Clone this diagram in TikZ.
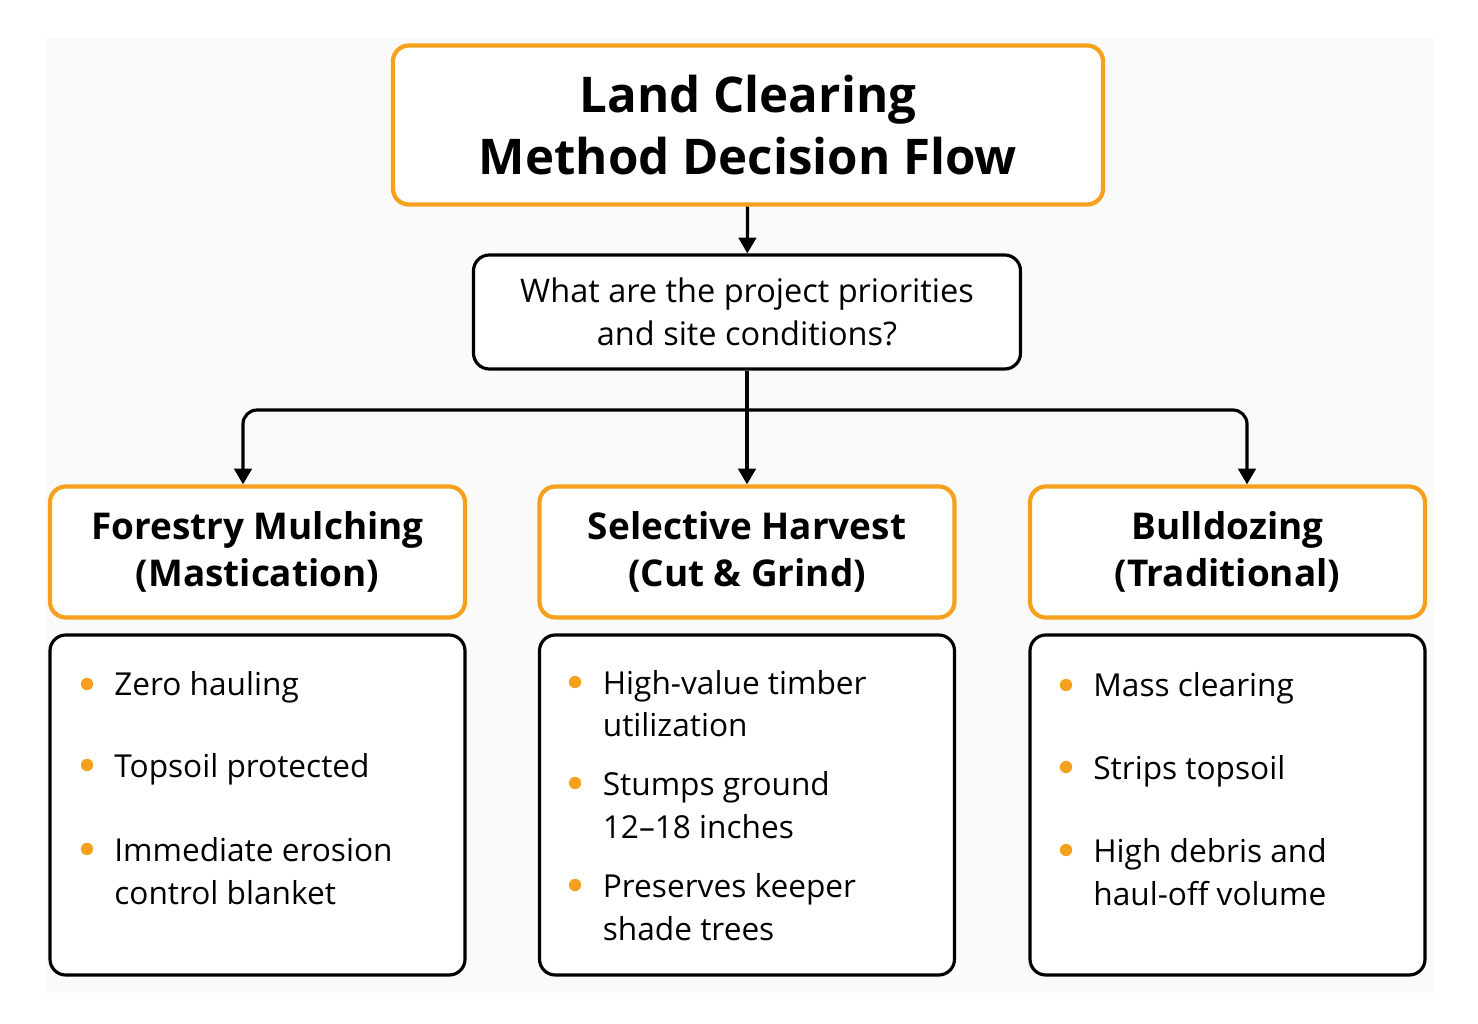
\documentclass[tikz,border=0pt]{standalone}
\usepackage{fontspec}
\setmainfont{Open Sans}
\usepackage{xcolor}
\usetikzlibrary{positioning,arrows.meta}
\definecolor{boxorange}{HTML}{F5A11E}
\tikzset{
  obox/.style={draw=boxorange,line width=2.4pt,rounded corners=9pt,fill=white,align=center,inner sep=0pt},
  kbox/.style={draw=black,line width=1.8pt,rounded corners=9pt,fill=white,inner sep=0pt},
  hdr/.style={obox,minimum width=8.3cm,minimum height=2.62cm,font=\fontsize{21}{27}\selectfont\bfseries},
  body/.style={kbox,minimum width=8.3cm,minimum height=6.8cm},
  flow/.style={-{Triangle[length=9pt,width=10pt]},line width=1.8pt,rounded corners=8pt},
  dot/.style={circle,fill=boxorange,inner sep=0pt,minimum size=7pt},
  item/.style={anchor=base west,align=left,inner sep=0pt,font=\fontsize{18}{24.4}\selectfont}
}
\begin{document}
\begin{tikzpicture}
\useasboundingbox[fill=white] (0,0) rectangle (29.56,20.46);
\fill[black!2] (0.9,0.6) rectangle (28.7,19.7);
% title and question
\node[obox,minimum width=14.2cm,minimum height=3.18cm,font=\fontsize{28}{35}\selectfont\bfseries] (title) at (14.96,17.96) {Land Clearing\\Method Decision Flow};
\node[kbox,minimum width=10.94cm,minimum height=2.28cm,align=center,font=\fontsize{18.5}{24.4}\selectfont] (quest) at (14.94,14.22) {What are the project priorities\\and site conditions?};
% method headers
\node[hdr] (mulch) at (5.15,9.42) {Forestry Mulching\\(Mastication)};
\node[hdr] (harvest) at (14.94,9.42) {Selective Harvest\\(Cut \& Grind)};
\node[hdr,minimum width=7.9cm] (dozer) at (24.55,9.42) {Bulldozing\\(Traditional)};
% detail boxes
\node[body] (mulchlist) at (5.15,4.36) {};
\node[body] (harvestlist) at (14.94,4.36) {};
\node[body,minimum width=7.9cm] (dozerlist) at (24.55,4.36) {};
% connectors
\coordinate (split) at (14.94,12.26);
\draw[flow] (title) -- (quest);
\draw[flow] (quest) -- (harvest.north);
\draw[flow] (split) -| ([xshift=-0.29cm]mulch.north);
\draw[flow] (split) -| ([xshift=0.39cm]dozer.north);
% bullet points (last value: extra lines)
\foreach \y/\t/\n in {6.78/Zero hauling/0, 5.16/Topsoil protected/0, 3.48/{Immediate erosion\\control blanket}/1}
  {\node[dot] at (1.74,\y) {}; \node[item] at (2.28,\y-0.24-\n*0.86) {\t};}
\foreach \y/\t/\n in {6.82/{High-value timber\\utilization}/1, 4.80/{Stumps ground\\12–18 inches}/1, 2.76/{Preserves keeper\\shade trees}/1}
  {\node[dot] at (11.5,\y) {}; \node[item] at (12.05,\y-0.24-\n*0.86) {\t};}
\foreach \y/\t/\n in {6.76/Mass clearing/0, 5.12/Strips topsoil/0, 3.46/{High debris and\\haul-off volume}/1}
  {\node[dot] at (21.32,\y) {}; \node[item] at (21.86,\y-0.24-\n*0.86) {\t};}
\end{tikzpicture}
\end{document}
